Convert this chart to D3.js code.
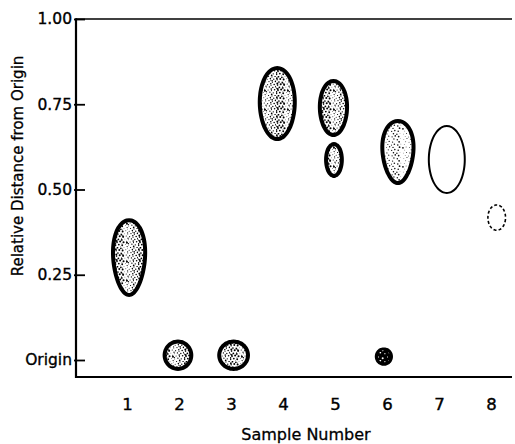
<!DOCTYPE html>
<html>
<head>
<meta charset="utf-8">
<script src="https://cdn.jsdelivr.net/npm/d3@7"></script>
<style>
  html, body { margin: 0; padding: 0; background: #fff; }
  svg { display: block; }
  text { font-family: "DejaVu Sans", sans-serif; fill: #000; }
</style>
</head>
<body>
<svg id="chart" width="515" height="444"></svg>
<script>
// ---- data ----
const samples = [1, 2, 3, 4, 5, 6, 7, 8];
const yTickValues = [0, 0.25, 0.5, 0.75, 1.0];
const yTickLabels = ["Origin", "0.25", "0.50", "0.75", "1.00"];

// each spot: lane position (sample units), Rf extent (low/high), width (sample units)
const spotSample    = [1, 2, 3, 4, 5, 5, 6, 6, 7, 8];
const spotX         = [1.04, 1.98, 3.05, 3.89, 4.97, 4.98, 6.21, 5.94, 7.15, 8.11];
const spotRfLow     = [0.185, -0.032, -0.032, 0.642, 0.654, 0.534, 0.513, -0.017, 0.487, 0.378];
const spotRfHigh    = [0.416, 0.060, 0.060, 0.862, 0.824, 0.639, 0.707, 0.037, 0.689, 0.457];
const spotWidth     = [0.69, 0.59, 0.63, 0.75, 0.60, 0.38, 0.67, 0.35, 0.73, 0.37];
const spotTaper     = [0.14, 0, 0, 0.04, 0.04, 0.02, 0.16, 0, 0, 0];
const spotIntensity = ["strong", "strong", "strong", "strong", "strong", "strong", "medium", "dense", "faint", "trace"];

const xLabel = "Sample Number";
const yLabel = "Relative Distance from Origin";

// ---- drawing ----
const svg = d3.select("#chart");
const x = d3.scaleLinear().domain([1, 8]).range([127, 491]);
const y = d3.scaleLinear().domain([0, 1]).range([360, 19]);
const axisX = 76, plotRight = 512, bottomY = y(-0.05);

// stipple patterns (decorative texture)
const defs = svg.append("defs");
function stipple(id, w, h, n, rMin, rMax, bg, fg) {
  const p = defs.append("pattern").attr("id", id).attr("patternUnits", "userSpaceOnUse")
    .attr("width", w).attr("height", h);
  p.append("rect").attr("width", w).attr("height", h).attr("fill", bg);
  const a1 = 0.7548776662, a2 = 0.5698402910;
  for (let i = 1; i <= n; i++) {
    const px = ((0.5 + a1 * i) % 1) * w;
    const py = ((0.5 + a2 * i) % 1) * h;
    const r = rMin + (((i * 0.618034 + (i % 7) * 0.13) % 1) * (rMax - rMin));
    p.append("circle").attr("cx", px).attr("cy", py).attr("r", r).attr("fill", fg);
  }
}
stipple("stipStrong", 23, 19, 70, 0.35, 1.05, "#fff", "#000");
stipple("stipMed", 23, 19, 40, 0.3, 0.9, "#fff", "#111");
stipple("stipDense", 9, 8, 4, 0.5, 1.0, "#000", "#fff");

const styleFor = {
  strong: { fill: "url(#stipStrong)", stroke: 4, dash: null },
  medium: { fill: "url(#stipMed)", stroke: 4, dash: null },
  dense:  { fill: "url(#stipDense)", stroke: 3, dash: null },
  faint:  { fill: "#fff", stroke: 2, dash: null },
  trace:  { fill: "none", stroke: 1.6, dash: "3,2.2" }
};

const spots = spotSample.map((s, i) => ({
  sample: s, xv: spotX[i], lo: spotRfLow[i], hi: spotRfHigh[i],
  w: spotWidth[i], taper: spotTaper[i], kind: spotIntensity[i]
}));

const unit = x(2) - x(1);
const line = d3.line().curve(d3.curveCardinalClosed.tension(0.3));
svg.append("g").selectAll("path").data(spots).join("path")
  .attr("d", d => {
    const st = styleFor[d.kind];
    const cx = x(d.xv), cy = (y(d.lo) + y(d.hi)) / 2;
    const rx = d.w * unit / 2 - st.stroke / 2;
    const ry = Math.abs(y(d.lo) - y(d.hi)) / 2 - st.stroke / 2;
    const pts = d3.range(48).map(k => {
      const t = k / 48 * 2 * Math.PI;
      const s = Math.sin(t);
      return [cx + rx * Math.cos(t) * (1 - d.taper * s), cy + ry * s];
    });
    return line(pts);
  })
  .attr("fill", d => styleFor[d.kind].fill)
  .attr("stroke", "#000")
  .attr("stroke-width", d => styleFor[d.kind].stroke)
  .attr("stroke-dasharray", d => styleFor[d.kind].dash);

// frame lines
svg.append("line").attr("x1", axisX).attr("x2", plotRight).attr("y1", y(1)).attr("y2", y(1))
  .attr("stroke", "#000").attr("stroke-width", 1.6);
svg.append("line").attr("x1", axisX).attr("x2", plotRight).attr("y1", bottomY).attr("y2", bottomY)
  .attr("stroke", "#000").attr("stroke-width", 2);
svg.append("line").attr("x1", axisX).attr("x2", axisX).attr("y1", y(1) - 0.8).attr("y2", bottomY + 1)
  .attr("stroke", "#000").attr("stroke-width", 2.2);

// y axis ticks/labels
const yAxis = d3.axisLeft(y).tickValues(yTickValues)
  .tickFormat((d, i) => yTickLabels[i]).tickSize(-9).tickPadding(4);
const gy = svg.append("g").attr("transform", `translate(${axisX},0)`).call(yAxis);
gy.select(".domain").remove();
gy.selectAll(".tick line").attr("x1", -2).attr("stroke", "#000").attr("stroke-width", 1.8);
gy.selectAll(".tick text").attr("font-size", 15.5).attr("font-family", "DejaVu Sans")
  .attr("fill", "#000").attr("stroke", "#000").attr("stroke-width", 0.35);

// x axis labels
const xAxis = d3.axisBottom(x).tickValues(samples).tickFormat(d3.format("d")).tickSize(0).tickPadding(21);
const gx = svg.append("g").attr("transform", `translate(0,${bottomY})`).call(xAxis);
gx.select(".domain").remove();
gx.selectAll(".tick text").attr("font-size", 16.5).attr("font-family", "DejaVu Sans")
  .attr("fill", "#000").attr("stroke", "#000").attr("stroke-width", 0.4);

// titles
svg.append("text").attr("x", 306).attr("y", 440).attr("text-anchor", "middle")
  .attr("font-size", 16).attr("stroke", "#000").attr("stroke-width", 0.3).text(xLabel);
svg.append("text").attr("transform", `translate(23,166) rotate(-90)`).attr("text-anchor", "middle")
  .attr("font-size", 15).attr("stroke", "#000").attr("stroke-width", 0.3).text(yLabel);
</script>
</body>
</html>
